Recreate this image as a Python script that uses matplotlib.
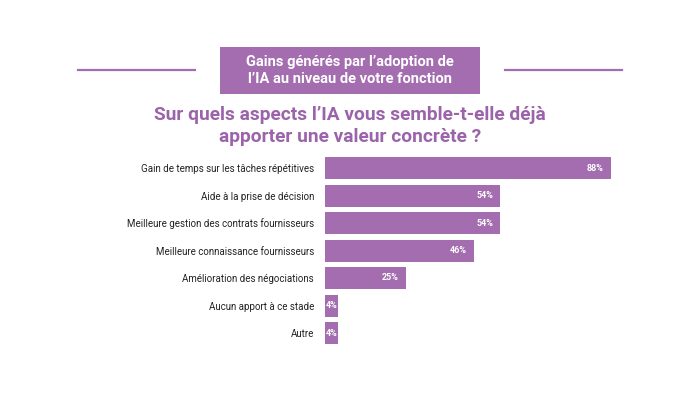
import matplotlib
matplotlib.use("Agg")
import matplotlib.pyplot as plt
from matplotlib.patches import Rectangle
from matplotlib.lines import Line2D

categories = [
    "Gain de temps sur les tâches répétitives",
    "Aide à la prise de décision",
    "Meilleure gestion des contrats fournisseurs",
    "Meilleure connaissance fournisseurs",
    "Amélioration des négociations",
    "Aucun apport à ce stade",
    "Autre",
]
values = [88, 54, 54, 46, 25, 4, 4]
value_labels = ["88%", "54%", "54%", "46%", "25%", "4%", "4%"]

header = "Gains générés par l’adoption de\nl’IA au niveau de votre fonction"
title = "Sur quels aspects l’IA vous semble-t-elle déjà\napporter une valeur concrète ?"

purple = "#A36DB0"
title_purple = "#9B63A9"
plt.rcParams['font.family'] = ['Roboto', 'DejaVu Sans']

W, H = 700, 394
fig = plt.figure(figsize=(7, 3.94), dpi=100)
fig.patch.set_facecolor("white")

# header decorations
fig.add_artist(Rectangle((220 / W, 1 - 94 / H), 260 / W, 47 / H, transform=fig.transFigure,
                         facecolor=purple, edgecolor="none"))
fig.add_artist(Line2D([78 / W, 195 / W], [1 - 70 / H] * 2, transform=fig.transFigure,
                      color=purple, lw=1.6))
fig.add_artist(Line2D([505 / W, 622 / W], [1 - 70 / H] * 2, transform=fig.transFigure,
                      color=purple, lw=1.6))
fig.text(350 / W, 1 - 70.5 / H, header, ha="center", va="center", color="white",
         fontsize=10.5, fontweight="bold", linespacing=1.3)
fig.text(350 / W, 1 - 126 / H, title, ha="center", va="center", color=title_purple,
         fontsize=13.8, fontweight="bold", linespacing=1.25)

# bar axes
left = 325 / W
width = 324.7 / W
bottom = (H - 346.75) / H
height = 192.5 / H
ax = fig.add_axes([left, bottom, width, height])
ypos = list(range(len(categories)))
ax.barh(ypos, values, height=0.8, color=purple, edgecolor="none")
ax.set_xlim(0, 100)
ax.set_ylim(len(categories) - 0.5, -0.5)
ax.set_yticks(ypos)
ax.set_yticklabels(categories, fontsize=7, color="#222222")
ax.tick_params(axis="y", length=0, pad=8)
ax.set_xticks([])
for s in ax.spines.values():
    s.set_visible(False)

for y, v, lab in zip(ypos, values, value_labels):
    if v < 10:
        ax.text(0.3, y, lab, ha="left", va="center", color="white", fontsize=6.5, fontweight="bold")
    else:
        ax.text(v - 2.2, y, lab, ha="right", va="center", color="white", fontsize=6.5, fontweight="bold")

fig.savefig("out.png", dpi=100, facecolor="white")
